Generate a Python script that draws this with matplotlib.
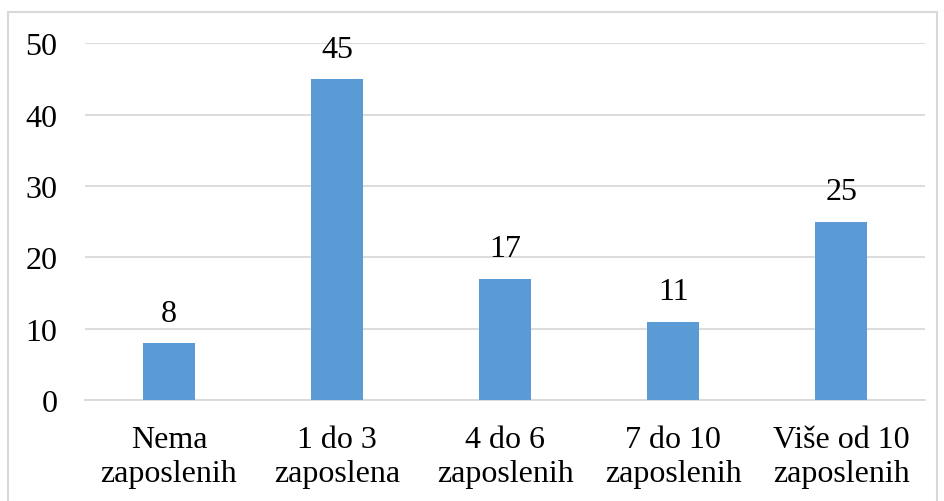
import matplotlib.pyplot as plt
from matplotlib.patches import Rectangle

categories = ["Nema\nzaposlenih", "1 do 3\nzaposlena", "4 do 6\nzaposlenih",
              "7 do 10\nzaposlenih", "Više od 10\nzaposlenih"]
values = [8, 45, 17, 11, 25]
yticks = [0, 10, 20, 30, 40, 50]

plt.rcParams['font.family'] = ['Liberation Serif', 'DejaVu Serif']

fig = plt.figure(figsize=(9.45, 5.02), dpi=100)
ax = fig.add_axes([0.090, 0.201, 0.889, 0.711])

x = range(len(values))
bars = ax.bar(x, values, width=0.31, color='#5B9BD5', zorder=3)
for xi, v in zip(x, values):
    ax.annotate(str(v), (xi, v), xytext=(0, 11), textcoords='offset points',
                ha='center', va='bottom', fontsize=23, color='#000000')

ax.set_xlim(-0.5, len(values) - 0.5)
ax.set_ylim(0, 50)
ax.set_yticks(yticks)
ax.set_xticks(list(x))
ax.set_xticklabels(categories, fontsize=23, linespacing=1.23)
ax.tick_params(axis='y', labelsize=23, length=0, pad=20)
ax.tick_params(axis='x', length=0, pad=18)
ax.grid(axis='y', color='#D9D9D9', linewidth=1.3, zorder=0)
for s in ['top', 'right', 'left']:
    ax.spines[s].set_visible(False)
ax.spines['bottom'].set_color('#D9D9D9')
ax.spines['bottom'].set_linewidth(1.3)

# chart frame
fig.patches.append(Rectangle((8 / 945, -0.05), 929 / 945, 1.05 - 13 / 502,
                             transform=fig.transFigure, fill=False,
                             edgecolor='#D9D9D9', linewidth=1.5))

fig.savefig('out.png', dpi=100)
